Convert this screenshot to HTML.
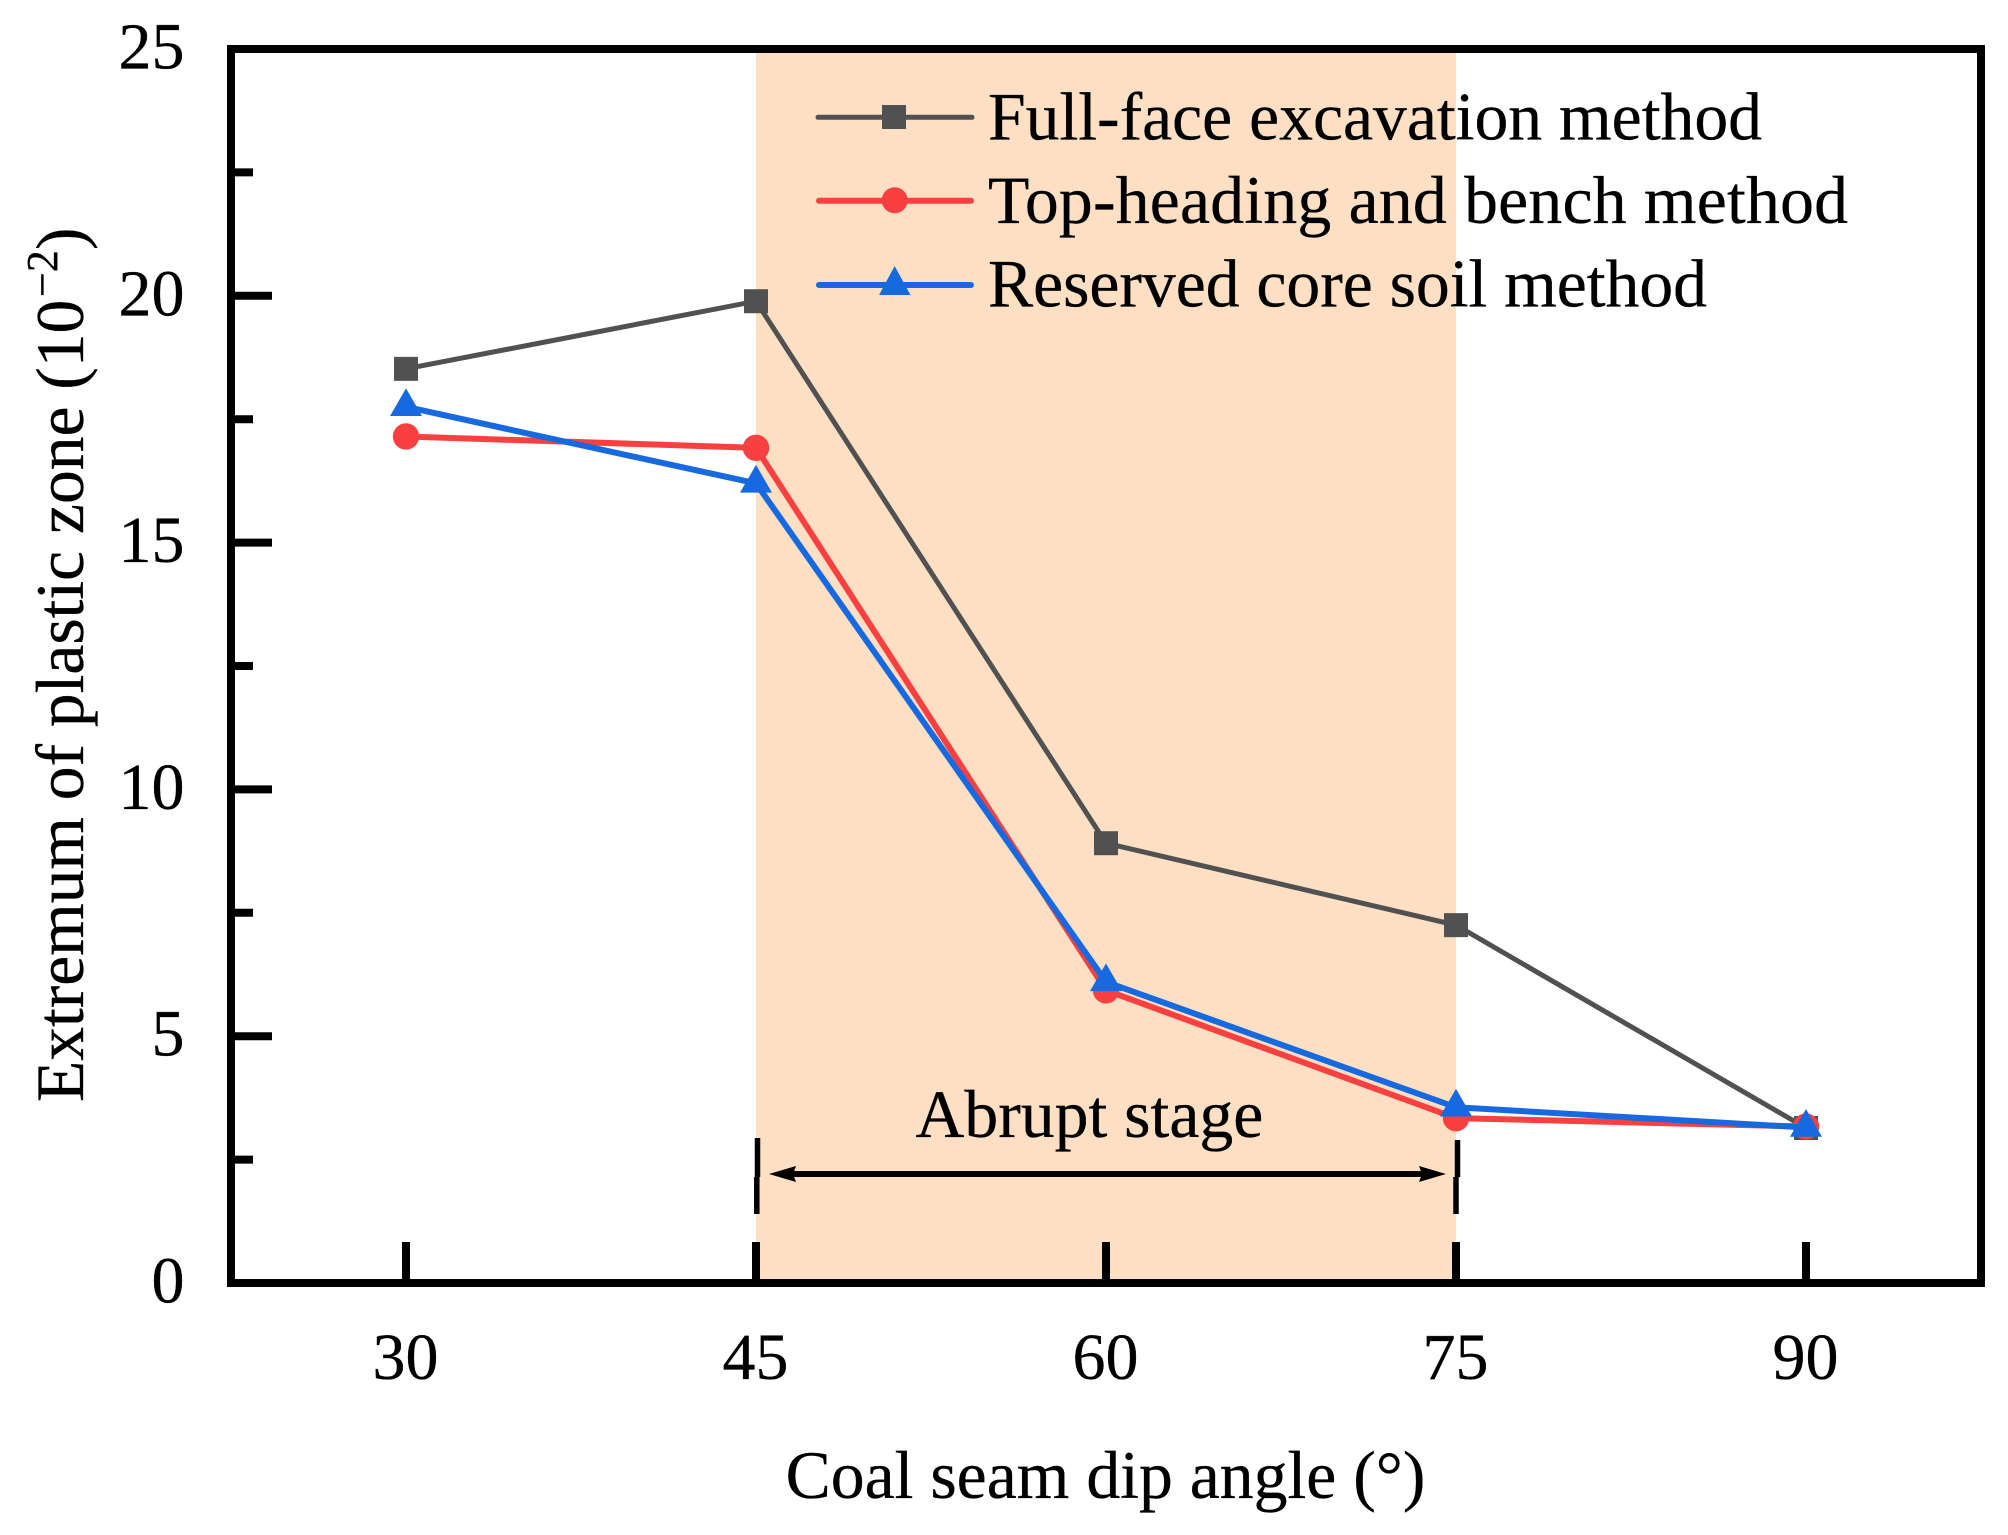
<!DOCTYPE html>
<html lang="en">
<head>
<meta charset="utf-8">
<title>Extremum of plastic zone vs coal seam dip angle</title>
<style>
  html, body { margin: 0; padding: 0; background: #fff; }
  svg { display: block; }
  text { font-family: "Liberation Serif", serif; font-size: 67.7px; fill: #000; stroke: #000; stroke-width: 0.3px; }
  .tick-label { font-size: 66px; }
</style>
</head>
<body>
<svg id="chart" xmlns="http://www.w3.org/2000/svg" width="2008" height="1535" viewBox="0 0 2008 1535">
  <rect x="0" y="0" width="2008" height="1535" fill="#ffffff"/>
  <g id="shade-layer"></g>
  <g id="tick-layer"></g>
  <rect x="231" y="49" width="1750" height="1234" fill="none" stroke="#000" stroke-width="8"/>
  <g id="series-layer"></g>

  <g>
    <text x="915.5" y="1137">Abrupt stage</text>
    <path d="M757.5 1138V1177M756.8 1177V1214" stroke="#000" stroke-width="5.5" fill="none"/>
    <path d="M1457.5 1140V1177M1456 1177V1214" stroke="#000" stroke-width="5.5" fill="none"/>
    <path d="M785 1174H1430" stroke="#000" stroke-width="6" fill="none"/>
    <path d="M769 1174L796 1166L793 1174L796 1182Z" fill="#000"/>
    <path d="M1446 1174L1419 1166L1422 1174L1419 1182Z" fill="#000"/>
  </g>

  <g>
    <g>
      <line x1="818" y1="117.3" x2="972" y2="117.3" stroke="#515151" stroke-width="5" stroke-linecap="round"/>
      <rect x="882" y="105" width="24" height="24" fill="#515151"/>
      <text x="988" y="139.3" textLength="774" lengthAdjust="spacing">Full-face excavation method</text>
    </g>
    <g>
      <line x1="819" y1="200.7" x2="971" y2="200.7" stroke="#F94040" stroke-width="6" stroke-linecap="round"/>
      <circle cx="894.7" cy="200.3" r="13" fill="#F94040"/>
      <text x="988" y="223" textLength="860" lengthAdjust="spacing">Top-heading and bench method</text>
    </g>
    <g>
      <line x1="819" y1="285" x2="971" y2="285" stroke="#1769DF" stroke-width="6" stroke-linecap="round"/>
      <polygon points="894.7,266 910.5,295 879,295" fill="#1769DF"/>
      <text x="988" y="306.7" textLength="719" lengthAdjust="spacing">Reserved core soil method</text>
    </g>
  </g>

  <text x="1105.5" y="1498" text-anchor="middle">Coal seam dip angle (°)</text>
  <text transform="translate(83,1102) rotate(-90)" x="0" y="0" style="font-size:67.5px">Extremum of plastic zone (10<tspan x="805" dy="-26" style="font-size:44px">−2</tspan><tspan x="852" dy="26">)</tspan></text>
</svg>

<script>
const categories = [30, 45, 60, 75, 90];
const xTickLabels = ['30', '45', '60', '75', '90'];
const yMajorTicks = [0, 5, 10, 15, 20, 25];
const yMinorTicks = [2.5, 7.5, 12.5, 17.5, 22.5];
const yTickLabels = ['0', '5', '10', '15', '20', '25'];
const fullFaceValues = [18.52, 19.89, 8.91, 7.25, 3.14];
const topHeadingValues = [17.15, 16.92, 5.93, 3.34, 3.17];
const reservedCoreValues = [17.75, 16.2, 6.1, 3.56, 3.15];
const abruptStageRange = [45, 75];

const NS = 'http://www.w3.org/2000/svg';
function xScale(v) { return 406 + (v - 30) * (350 / 15); }
function yScale(v) { return 1283 - v * (1234 / 25); }

const shadeLayer = document.getElementById('shade-layer');
const tickLayer = document.getElementById('tick-layer');
const seriesLayer = document.getElementById('series-layer');
const svgRoot = document.getElementById('chart');

const band = document.createElementNS(NS, 'rect');


band.setAttribute('x', xScale(abruptStageRange[0]));
band.setAttribute('y', 49);
band.setAttribute('width', xScale(abruptStageRange[1]) - xScale(abruptStageRange[0]));
band.setAttribute('height', 1234);
band.setAttribute('fill', '#FDDFC4');
shadeLayer.appendChild(band);

categories.forEach(function (c, i) {
  const t = document.createElementNS(NS, 'line');
  
  
  t.setAttribute('x1', xScale(c));
  t.setAttribute('x2', xScale(c));
  t.setAttribute('y1', 1283);
  t.setAttribute('y2', 1242);
  t.setAttribute('stroke', '#000');
  t.setAttribute('stroke-width', 8);
  tickLayer.appendChild(t);
  const l = document.createElementNS(NS, 'text');
  
  
  l.setAttribute('class', 'tick-label');
  l.setAttribute('x', xScale(c) - 0.5);
  l.setAttribute('y', 1379);
  l.setAttribute('text-anchor', 'middle');
  l.textContent = xTickLabels[i];
  svgRoot.appendChild(l);
});

yMajorTicks.forEach(function (v, i) {
  const t = document.createElementNS(NS, 'line');
  
  
  t.setAttribute('x1', 231);
  t.setAttribute('x2', 272);
  t.setAttribute('y1', yScale(v));
  t.setAttribute('y2', yScale(v));
  t.setAttribute('stroke', '#000');
  t.setAttribute('stroke-width', 8);
  tickLayer.appendChild(t);
  const l = document.createElementNS(NS, 'text');
  
  
  l.setAttribute('class', 'tick-label');
  l.setAttribute('x', 184.5);
  l.setAttribute('y', yScale(v) + 19.5);
  l.setAttribute('text-anchor', 'end');
  l.textContent = yTickLabels[i];
  svgRoot.appendChild(l);
});

yMinorTicks.forEach(function (v) {
  const t = document.createElementNS(NS, 'line');
  
  
  t.setAttribute('x1', 231);
  t.setAttribute('x2', 253);
  t.setAttribute('y1', yScale(v));
  t.setAttribute('y2', yScale(v));
  t.setAttribute('stroke', '#000');
  t.setAttribute('stroke-width', 8);
  tickLayer.appendChild(t);
});

function linePoints(values) {
  return values.map(function (v, i) { return xScale(categories[i]) + ',' + yScale(v); }).join(' ');
}

const fullLine = document.createElementNS(NS, 'polyline');


fullLine.setAttribute('points', linePoints(fullFaceValues));
fullLine.setAttribute('fill', 'none');
fullLine.setAttribute('stroke', '#515151');
fullLine.setAttribute('stroke-width', 5);
seriesLayer.appendChild(fullLine);

fullFaceValues.forEach(function (v, i) {
  const m = document.createElementNS(NS, 'rect');
  
  
  m.setAttribute('x', xScale(categories[i]) - 12);
  m.setAttribute('y', yScale(v) - 12);
  m.setAttribute('width', 24);
  m.setAttribute('height', 24);
  m.setAttribute('fill', '#515151');
  seriesLayer.appendChild(m);
});

const topLine = document.createElementNS(NS, 'polyline');


topLine.setAttribute('points', linePoints(topHeadingValues));
topLine.setAttribute('fill', 'none');
topLine.setAttribute('stroke', '#F94040');
topLine.setAttribute('stroke-width', 6);
seriesLayer.appendChild(topLine);

topHeadingValues.forEach(function (v, i) {
  const m = document.createElementNS(NS, 'circle');
  
  
  m.setAttribute('cx', xScale(categories[i]));
  m.setAttribute('cy', yScale(v));
  m.setAttribute('r', 13.2);
  m.setAttribute('fill', '#F94040');
  seriesLayer.appendChild(m);
});

const coreLine = document.createElementNS(NS, 'polyline');


coreLine.setAttribute('points', linePoints(reservedCoreValues));
coreLine.setAttribute('fill', 'none');
coreLine.setAttribute('stroke', '#1769DF');
coreLine.setAttribute('stroke-width', 6);
seriesLayer.appendChild(coreLine);

reservedCoreValues.forEach(function (v, i) {
  const cx = xScale(categories[i]);
  const cy = yScale(v);
  const m = document.createElementNS(NS, 'polygon');
  
  
  m.setAttribute('points', cx + ',' + (cy - 18.5) + ' ' + (cx + 16) + ',' + (cy + 9.2) + ' ' + (cx - 16) + ',' + (cy + 9.2));
  m.setAttribute('fill', '#1769DF');
  seriesLayer.appendChild(m);
});
</script>
</body>
</html>
